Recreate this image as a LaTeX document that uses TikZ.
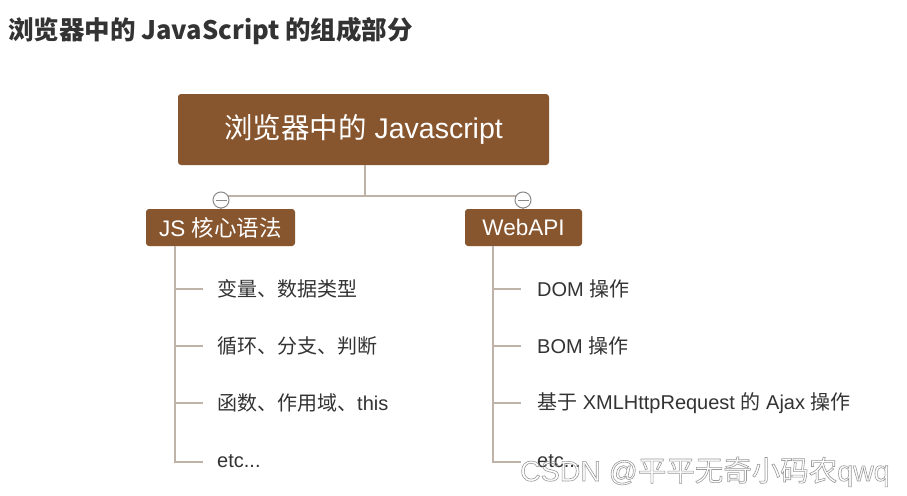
\documentclass[tikz,border=0pt]{standalone}
\usepackage{fontspec}
\setmainfont{Liberation Sans}
\newfontfamily\cjk{Noto Sans CJK SC}
\usetikzlibrary{calc}
\definecolor{brownbox}{HTML}{87552E}
\definecolor{linegray}{HTML}{BFB3A8}
\definecolor{txt}{HTML}{333333}
\definecolor{circgray}{HTML}{8A8A8A}
\tikzset{
  rootbox/.style={fill=brownbox, rounded corners=3pt, text=white, inner sep=0pt, font=\fontsize{28.5}{30}\selectfont},
  childbox/.style={fill=brownbox, rounded corners=3pt, text=white, inner sep=0pt, font=\fontsize{22.5}{24}\selectfont},
  leaf/.style={anchor=west, text=txt, inner sep=0pt, font=\fontsize{20}{22}\selectfont},
  conn/.style={draw=linegray, line width=2pt},
  tick/.style={draw=linegray, line width=1.2pt},
  fold/.style={circle, draw=circgray, fill=white, line width=1pt, minimum size=16pt, inner sep=0pt}
}
\begin{document}
\begin{tikzpicture}[x=1pt,y=-1pt]
\useasboundingbox[fill=white] (0,0) rectangle (907,495);
\node[anchor=west, text=txt, inner sep=0pt, font=\cjk\fontsize{25.5}{27}\selectfont\bfseries] (title) at (8,31) {浏览器中的 JavaScript 的组成部分};
% root
\node[rootbox, minimum width=371pt, minimum height=71pt] (root) at (363.5,129.5) {{\cjk 浏览器中的} Javascript};
% children
\node[childbox, minimum width=149pt, minimum height=37pt] (js) at (220.5,227.5) {JS {\cjk 核心语法}};
\node[childbox, minimum width=117pt, minimum height=37pt] (web) at (523.5,227.5) {WebAPI};
\coordinate (mid) at (364.5,196);
\coordinate (lj) at (221,196);
\coordinate (rj) at (523,196);
\draw[conn] (root.south -| mid) -- (mid);
\draw[conn] (lj) -- (rj);
\draw[conn] (lj) -- (js.north -| lj);
\draw[conn] (rj) -- (web.north -| rj);
\node[fold] (fl) at (221,200) {};
\node[fold] (fr) at (523,200) {};
\draw[circgray, line width=1pt] ($(fl)+(-5.5,0)$) -- ($(fl)+(5.5,0)$);
\draw[circgray, line width=1pt] ($(fr)+(-5.5,0)$) -- ($(fr)+(5.5,0)$);
% left leaves
\node[leaf] (l1) at (217,289) {\cjk 变量、数据类型};
\node[leaf] (l2) at (217,346) {\cjk 循环、分支、判断};
\node[leaf] (l3) at (217,403) {{\cjk 函数、作用域、}this};
\node[leaf] (l4) at (217,461) {etc...};
\coordinate (lt) at (175,246);
\draw[tick] (lt) -- (175,462) -- (203,462);
\foreach \n/\y in {l1/289,l2/346,l3/403}{\draw[tick] (175,\y) -- (203,\y);}
% right leaves
\node[leaf] (r1) at (537,289) {DOM {\cjk 操作}};
\node[leaf] (r2) at (537,346) {BOM {\cjk 操作}};
\node[leaf] (r3) at (537,403) {{\cjk 基于} XMLHttpRequest {\cjk 的} Ajax {\cjk 操作}};
\node[leaf] (r4) at (537,461) {etc...};
\coordinate (rt) at (493,246);
\draw[tick] (rt) -- (493,462) -- (521,462);
\foreach \n/\y in {r1/289,r2/346,r3/403}{\draw[tick] (493,\y) -- (521,\y);}
% watermark
\node[anchor=base west, inner sep=0pt, font=\fontsize{28.5}{30}\selectfont] (wm) at (520,481) {\special{pdf:literal direct 1 Tr 0.6 w 0.6 g 0.6 G}CSDN @{\cjk 平平无奇小码农}qwq\special{pdf:literal direct 0 Tr}};
\end{tikzpicture}
\end{document}
